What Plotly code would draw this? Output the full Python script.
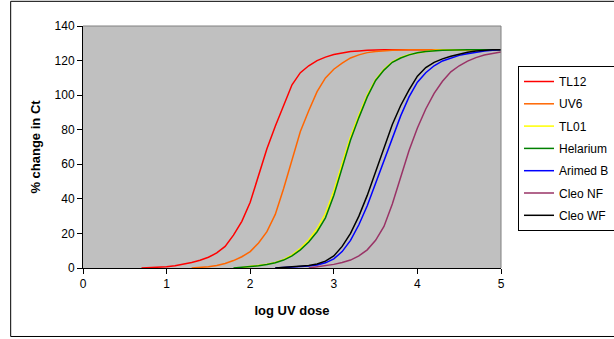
import plotly.graph_objects as go

# ---- data (log UV dose vs % change in Ct) ----
x_tl12 = [0.7, 0.8, 0.9, 1.0, 1.1, 1.2, 1.3, 1.4, 1.5, 1.6, 1.7, 1.8, 1.9, 2.0, 2.1, 2.2, 2.3, 2.4, 2.5,
          2.6, 2.7, 2.8, 2.9, 3.0, 3.1, 3.2, 3.3, 3.4, 3.6, 3.8, 4.0, 4.5, 5.0]
y_tl12 = [0, 0.1, 0.3, 0.7, 1.3, 2.2, 3.2, 4.5, 6.2, 8.7, 12.5, 19, 27, 38, 54, 69, 82, 94, 106,
          113, 117, 120, 122, 123.5, 124.5, 125.2, 125.6, 126, 126.2, 126.3, 126.3, 126.3, 126.3]

x_uv6 = [1.3, 1.4, 1.5, 1.6, 1.7, 1.8, 1.9, 2.0, 2.1, 2.2, 2.3, 2.4, 2.5, 2.6, 2.7, 2.8, 2.9, 3.0,
         3.1, 3.2, 3.3, 3.4, 3.5, 3.6, 3.7, 3.9, 4.2, 4.6, 5.0]
y_uv6 = [0, 0.3, 0.7, 1.4, 2.6, 4.3, 6.5, 9.5, 14.5, 21, 31, 46, 63, 79, 91, 102, 110, 115,
         118.5, 121.5, 123.3, 124.6, 125.3, 125.8, 126, 126.3, 126.3, 126.3, 126.3]

x_tl01 = [1.9, 2.0, 2.1, 2.2, 2.3, 2.4, 2.5, 2.6, 2.7, 2.8, 2.9, 3.0, 3.1, 3.2, 3.3, 3.4, 3.5, 3.6,
          3.7, 3.8, 3.9, 4.0, 4.1, 4.2, 4.3, 4.6, 5.0]
y_tl01 = [0.3, 0.9, 1.4, 2.2, 3.2, 5, 7.6, 11.3, 16.3, 22.7, 31.5, 44.5, 60.5, 76, 88.5, 100, 109, 115,
          119.3, 121.8, 123.5, 124.6, 125.3, 125.8, 126.1, 126.3, 126.3]

x_hel = [1.8, 1.9, 2.0, 2.1, 2.2, 2.3, 2.4, 2.5, 2.6, 2.7, 2.8, 2.9, 3.0, 3.1, 3.2, 3.3, 3.4, 3.5,
         3.6, 3.7, 3.8, 3.9, 4.0, 4.1, 4.2, 4.3, 4.6, 5.0]
y_hel = [0, 0.3, 0.8, 1.3, 2, 3, 4.6, 7, 10.5, 15, 21, 29, 42, 58, 74, 87, 99, 108.5,
         114.5, 119, 121.5, 123.3, 124.5, 125.2, 125.7, 126, 126.3, 126.3]

x_arimed = [2.3, 2.4, 2.5, 2.6, 2.7, 2.8, 2.9, 3.0, 3.1, 3.2, 3.3, 3.4, 3.5, 3.6, 3.7, 3.8, 3.9,
            4.0, 4.1, 4.2, 4.3, 4.4, 4.5, 4.6, 4.7, 4.8, 4.9, 5.0]
y_arimed = [0, 0.2, 0.4, 0.7, 1.1, 1.8, 3, 5.3, 9.5, 16, 25, 36, 49, 62, 76, 88, 99,
            107.5, 113, 117, 119.8, 121.5, 123, 124, 125, 125.6, 126, 126.3]

x_cleonf = [2.7, 2.8, 2.9, 3.0, 3.1, 3.2, 3.3, 3.4, 3.5, 3.6, 3.7, 3.8, 3.9, 4.0, 4.1, 4.2, 4.3,
            4.4, 4.5, 4.6, 4.7, 4.8, 4.9, 5.0]
y_cleonf = [0, 0.7, 1.3, 2.1, 3.2, 4.6, 7, 10.5, 16, 24, 37, 52, 68, 81, 92, 101, 108,
            113.5, 117, 119.7, 121.7, 123.2, 124.2, 125]

x_cleowf = [2.3, 2.4, 2.5, 2.6, 2.7, 2.8, 2.9, 3.0, 3.1, 3.2, 3.3, 3.4, 3.5, 3.6, 3.7, 3.8, 3.9,
            4.0, 4.1, 4.2, 4.3, 4.4, 4.5, 4.6, 4.7, 4.8, 4.9, 5.0]
y_cleowf = [0, 0.3, 0.6, 0.9, 1.4, 2.3, 4, 7, 12.5, 20, 30, 42, 56, 70, 83, 94, 103,
            111, 116, 119, 121, 122.5, 123.8, 124.8, 125.5, 126, 126.2, 126.3]

series_names = ["TL12", "UV6", "TL01", "Helarium", "Arimed B", "Cleo NF", "Cleo WF"]
series_x = [x_tl12, x_uv6, x_tl01, x_hel, x_arimed, x_cleonf, x_cleowf]
series_y = [y_tl12, y_uv6, y_tl01, y_hel, y_arimed, y_cleonf, y_cleowf]
series_colors = ["#FF0000", "#FF6600", "#FFFF00", "#008000", "#0000FF", "#993366", "#000000"]

x_ticks = [0, 1, 2, 3, 4, 5]
y_ticks = [0, 20, 40, 60, 80, 100, 120, 140]

FONT = "Liberation Sans, Arial, sans-serif"

fig = go.Figure()
for i, (name, xs, ys, col) in enumerate(zip(series_names, series_x, series_y, series_colors)):
    fig.add_trace(go.Scatter(x=xs, y=ys, mode="lines", name=name,
                             line=dict(color=col, width=1.5),
                             legendgroup="g%d" % i))

fig.update_layout(
    width=614, height=339,
    margin=dict(l=83, r=113, t=26, b=71, autoexpand=False),
    paper_bgcolor="white",
    plot_bgcolor="#C0C0C0",
    font=dict(family=FONT, size=12, color="black"),
    showlegend=True,
    legend=dict(xref="container", yref="container", x=518 / 614, y=1 - 66 / 339,
                xanchor="left", yanchor="top",
                bgcolor="white", bordercolor="black", borderwidth=1,
                font=dict(family=FONT, size=12, color="black"),
                traceorder="grouped", tracegroupgap=3.3, itemwidth=30),
    xaxis=dict(range=[0, 5], tickvals=x_ticks, showgrid=False, zeroline=False,
               showline=True, linecolor="black", linewidth=1,
               ticks="outside", ticklen=5, tickcolor="black",
               tickfont=dict(family=FONT, size=12, color="black"),
               title=dict(text="<b>log UV dose</b>", standoff=15,
                          font=dict(family=FONT, size=13, color="black"))),
    yaxis=dict(range=[0, 140], tickvals=y_ticks, showgrid=False, zeroline=False,
               showline=True, linecolor="black", linewidth=1,
               ticks="outside", ticklen=5, tickcolor="black",
               tickfont=dict(family=FONT, size=12, color="black"),
               title=dict(text="<b>% change in Ct</b>", standoff=11,
                          font=dict(family=FONT, size=13, color="black"))),
    shapes=[
        # plot-area border (top and right, grey)
        dict(type="line", xref="paper", yref="paper", x0=0, x1=1, y0=1, y1=1,
             line=dict(color="#808080", width=1)),
        dict(type="line", xref="paper", yref="paper", x0=1, x1=1, y0=0, y1=1,
             line=dict(color="#808080", width=1)),
        # outer chart border
        dict(type="rect", xref="paper", yref="paper", x0=-0.173, x1=1.3, y0=-0.283, y1=1.102,
             line=dict(color="black", width=1), layer="below"),
    ],
)

fig.write_html("out.html")
